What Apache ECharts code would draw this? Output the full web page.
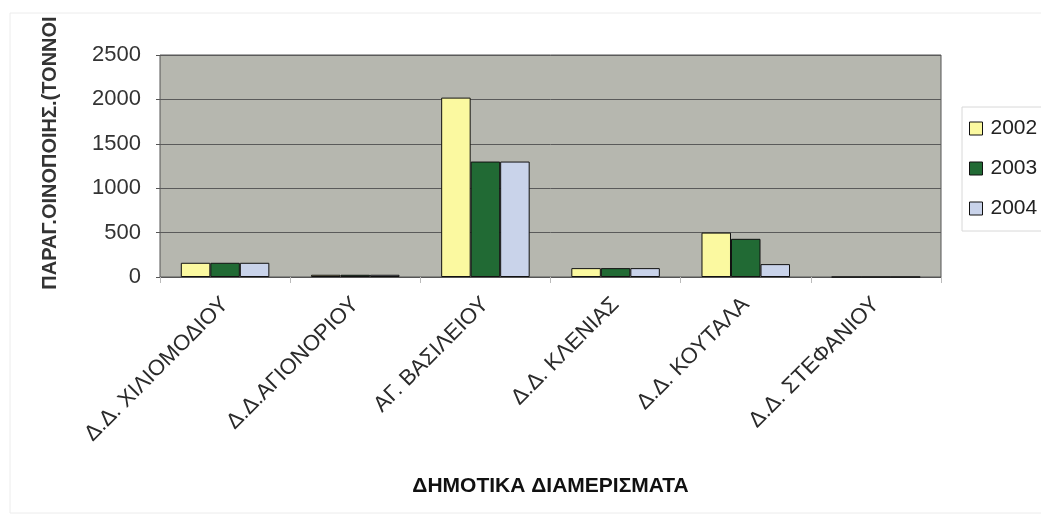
<!DOCTYPE html>
<html>
<head>
<meta charset="utf-8">
<script src="https://cdn.jsdelivr.net/npm/echarts@6/dist/echarts.min.js"></script>
<style>
  html, body { margin: 0; padding: 0; background: #fff; }
  #chart { width: 1041px; height: 518px; }
</style>
</head>
<body>
<div id="chart"></div>
<script>
// district names (x axis)
const categories = ['Δ.Δ. ΧΙΛΙΟΜΟΔΙΟΥ', 'Δ.Δ.ΑΓΙΟΝΟΡΙΟΥ', 'ΑΓ. ΒΑΣΙΛΕΙΟΥ', 'Δ.Δ. ΚΛΕΝΙΑΣ', 'Δ.Δ. ΚΟΥΤΑΛΑ', 'Δ.Δ. ΣΤΕΦΑΝΙΟΥ']
const years = ['2002', '2003', '2004']
// wine production (tonnes) per year
const values2002 = [160, 25, 2020, 100, 500, 0]
const values2003 = [160, 25, 1300, 100, 430, 0]
const values2004 = [160, 25, 1300, 100, 145, 0]
const yTicks = [0, 500, 1000, 1500, 2000, 2500]

const colors = ['#fbf9a0', '#216a34', '#c9d3ea']

const chart = echarts.init(document.getElementById('chart'))

function bar(name, data, i) {
  return {
    name: name,
    type: 'bar',
    data: data,
    barGap: '0%',
    barCategoryGap: '32%',
    itemStyle: { color: colors[i], borderColor: '#111', borderWidth: 1 }
  }
}

chart.setOption({
  backgroundColor: '#ffffff',
  animation: false,
  textStyle: { fontFamily: 'Liberation Sans, Arial, sans-serif' },
  graphic: [{
    type: 'rect',
    shape: { x: 10, y: 13, width: 1040, height: 500 },
    style: { fill: 'none', stroke: '#ececec', lineWidth: 1 },
    silent: true
  }, {
    // y axis title, sits a bit above the plot centre like the original
    type: 'text',
    x: 50,
    y: 153,
    rotation: Math.PI / 2,
    style: {
      text: 'ΠΑΡΑΓ.ΟΙΝΟΠΟΙΗΣ.(ΤΟΝΝΟΙ',
      font: 'bold 20px Liberation Sans, Arial, sans-serif',
      fill: '#333',
      align: 'center',
      verticalAlign: 'middle'
    },
    silent: true
  }],
  grid: {
    left: 160, right: 100, top: 55, bottom: 241,
    show: true,
    backgroundColor: '#b6b7af',
    borderColor: '#555',
    borderWidth: 1
  },
  legend: {
    data: years,
    orient: 'vertical',
    left: 962,
    top: 107,
    padding: [11, 30, 12, 7],
    itemGap: 19,
    itemWidth: 13,
    itemHeight: 13,
    icon: 'rect',
    borderColor: '#d8d8d8',
    borderWidth: 1,
    backgroundColor: '#fff',
    itemStyle: { borderColor: '#111', borderWidth: 1 },
    textStyle: { fontSize: 21, color: '#222', padding: [0, 0, 0, 3] }
  },
  xAxis: {
    type: 'category',
    data: categories,
    name: 'ΔΗΜΟΤΙΚΑ ΔΙΑΜΕΡΙΣΜΑΤΑ',
    nameLocation: 'middle',
    nameGap: 199,
    nameTextStyle: { fontSize: 21, fontWeight: 'bold', color: '#111' },
    axisLine: { lineStyle: { color: '#555' } },
    axisTick: { show: true, length: 6, lineStyle: { color: '#bbb' } },
    axisLabel: { rotate: 45, fontSize: 22, color: '#2a2a2a', margin: 24 }
  },
  yAxis: {
    type: 'value',
    min: 0,
    max: 2500,
    interval: 500,
    axisLine: { show: false },
    axisTick: { show: true, length: 4, lineStyle: { color: '#555' } },
    splitLine: { lineStyle: { color: '#5a5a5a', width: 1 } },
    axisLabel: {
      fontSize: 22, color: '#333', margin: 19,
      formatter: v => yTicks.includes(v) ? String(v) : ''
    }
  },
  series: [
    bar(years[0], values2002, 0),
    bar(years[1], values2003, 1),
    bar(years[2], values2004, 2)
  ]
})
</script>
</body>
</html>
